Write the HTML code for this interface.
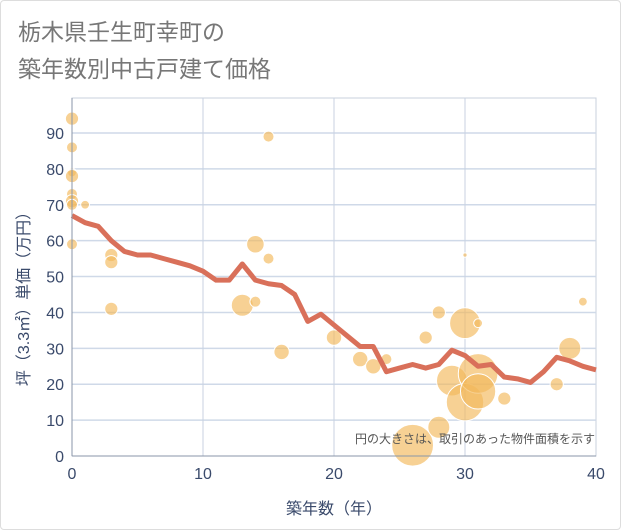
<!DOCTYPE html>
<html><head><meta charset="utf-8"><style>
body{margin:0;background:#fff;font-family:"Liberation Sans","Noto Sans CJK JP",sans-serif;}
#wrap{position:relative;width:619px;height:528px;border:1px solid #ddd;border-radius:4px;overflow:hidden}
</style></head><body>
<div id="wrap">
<svg id="svg" width="621" height="530" style="position:absolute;left:-1px;top:-1px">
<text x="18" y="40" font-size="23" fill="#777">栃木県壬生町幸町の</text>
<text x="18" y="77" font-size="23" fill="#777">築年数別中古戸建て価格</text>
<g id="grid"></g><g id="bubbles"></g><g id="line"></g><g id="axes"></g>
<text x="595" y="443" font-size="12" fill="#555" text-anchor="end">円の大きさは、取引のあった物件面積を示す</text>
<text x="334" y="514" font-size="16" fill="#3a4a6b" text-anchor="middle">築年数（年）</text>
<text transform="translate(29,295) rotate(-90)" font-size="16" fill="#3a4a6b" text-anchor="middle">坪（3.3㎡）単価（万円）</text>
</svg></div>
<script>
const xTicks=[0,10,20,30,40];
const yTicks=[0,10,20,30,40,50,60,70,80,90];
const lineYears=[0,1,2,3,4,5,6,7,8,9,10,11,12,13,14,15,16,17,18,19,20,21,22,23,24,25,26,27,28,29,30,31,32,33,34,35,36,37,38,39,40];
const lineValues=[67,65,64,60,57,56,56,55,54,53,51.5,49,49,53.5,49,48,47.5,45,37.5,39.5,36.5,33.5,30.5,30.5,23.5,24.5,25.5,24.5,25.5,29.5,28,25,25.5,22,21.5,20.5,23.5,27.5,26.5,25,24];
const bubbleX=[0,0,0,0,0,0,0,1,0,3,3,3,13,14,14,15,15,16,20,22,23,24,26,27,28,28,29,30,30,31,30,31,31,33,37,38,39];
const bubbleY=[94,86,79,78,73,71,70,70,59,56,54,41,42,43,59,55,89,29,33,27,25,27,3,33,40,8,21,37,56,37,15,23,18,16,20,30,43];
const bubbleSize=[6,5,4,6,5,6,5,4,5,6,6,6,10,5,8,5,5,7,7,7,7,5,19,6,6,10,14,14,2,4,17,18,16,6,6,10,4];
const NS="http://www.w3.org/2000/svg";
const X0=72,X1=596,Y0=456,Y1=133;
const sx=v=>X0+(X1-X0)*v/40, sy=v=>Y0-(Y0-Y1)*v/90;
function mk(t,a,p){const e=document.createElementNS(NS,t);for(const k in a)e.setAttribute(k,a[k]);p.appendChild(e);return e;}
const g=document.getElementById('grid'),ax=document.getElementById('axes');
mk('rect',{x:X0,y:98,width:X1-X0,height:Y0-98,fill:'none',stroke:'#c8d0dc'},g);
yTicks.forEach(v=>{if(v>0){const l=mk('line',{x1:X0,x2:X1,y1:sy(v),y2:sy(v),stroke:'#cfd9e8','stroke-width':1.5},g);

}
const t=mk('text',{x:X0-8,y:sy(v)+6,'font-size':16,fill:'#3a4a6b','text-anchor':'end'},ax);t.textContent=v;

});
xTicks.forEach(v=>{if(v>0&&v<40){const l=mk('line',{x1:sx(v),x2:sx(v),y1:98,y2:Y0,stroke:'#c8d2e2'},g);

}
const t=mk('text',{x:sx(v),y:479,'font-size':16,fill:'#3a4a6b','text-anchor':'middle'},ax);t.textContent=v;

});
mk('line',{x1:X0,x2:X0,y1:98,y2:Y0,stroke:'#8a96a8'},ax);
mk('line',{x1:X0,x2:X1,y1:Y0,y2:Y0,stroke:'#8a96a8'},ax);
const bg=document.getElementById('bubbles');
bubbleX.forEach((x,i)=>{const c=mk('circle',{cx:sx(x),cy:sy(bubbleY[i]),r:bubbleSize[i]*1.1,fill:'rgba(242,184,90,0.65)',stroke:'#fff','stroke-width':1},bg);

});
const p=mk('polyline',{points:lineYears.map((x,i)=>sx(x)+','+sy(lineValues[i])).join(' '),fill:'none',stroke:'#d9705a','stroke-width':5,'stroke-linejoin':'round'},document.getElementById('line'));


</script>
</body></html>
